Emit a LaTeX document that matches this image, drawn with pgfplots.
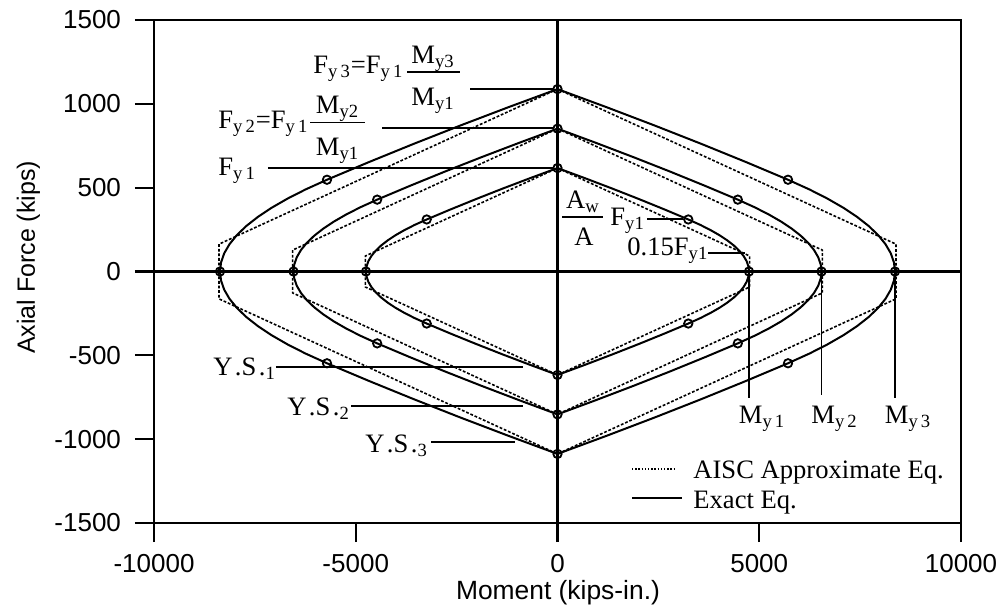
\documentclass[border=0pt]{standalone}
\usepackage{fontspec}
\setmainfont{Liberation Serif}
\setsansfont{Liberation Sans}
\usepackage{pgfplots}
\pgfplotsset{compat=1.18}
\newcommand{\sub}[1]{\textsubscript{#1}}
\newcommand{\ann}{\fontsize{13.3}{15.5}\selectfont}
\begin{document}
\begin{tikzpicture}
\path[use as bounding box] (-77pt,-42pt) rectangle (424pt,261.5pt);
\begin{axis}[
  at={(0pt,0pt)}, anchor=south west,
  scale only axis, width=403.5pt, height=251.5pt,
  xmin=-10000, xmax=10000, ymin=-1500, ymax=1500,
  xtick={-10000,-5000,0,5000,10000},
  ytick={-1500,-1000,-500,0,500,1000,1500},
  scaled ticks=false,
  xtick pos=bottom, ytick pos=left,
  tick align=outside, major tick length=9.5pt,
  tick style={black, line width=1.1pt},
  axis line style={line width=1.2pt},
  /pgf/number format/assume math mode=true,
  /pgf/number format/1000 sep={},
  ticklabel style={font=\fontsize{13}{15}\selectfont\sffamily},
  yticklabel style={xshift=-3.5pt},
  xticklabel style={yshift=-2.8pt},
  xlabel={Moment (kips-in.)}, ylabel={Axial Force (kips)},
  xlabel style={font=\fontsize{13.2}{15}\selectfont\sffamily, at={(axis description cs:0.5006,-0.152)}, anchor=base},
  ylabel style={font=\fontsize{12.5}{14}\selectfont\sffamily, at={(axis description cs:-0.1475,0.528)}, anchor=base},
  clip=false,
]
% zero lines
\addplot[black, line width=1.2pt] coordinates {(-10000,0) (10000,0)};
\addplot[black, line width=1.2pt] coordinates {(0,-1500) (0,1500)};
% AISC approximate
\addplot[black, line width=0.8pt, dash pattern=on 1.4pt off 0.9pt] coordinates {(0,617) (4760,92.6) (4760,-92.6) (0,-617) (-4760,-92.6) (-4760,92.6) (0,617)};
\addplot[black, line width=0.8pt, dash pattern=on 1.4pt off 0.9pt] coordinates {(0,852) (6563,127.8) (6563,-127.8) (0,-852) (-6563,-127.8) (-6563,127.8) (0,852)};
\addplot[black, line width=0.8pt, dash pattern=on 1.4pt off 0.9pt] coordinates {(0,1088) (8389,163.2) (8389,-163.2) (0,-1088) (-8389,-163.2) (-8389,163.2) (0,1088)};
% exact
\addplot[black, line width=1pt, line join=round] coordinates {
(0,617) (694.8,555.3) (1368.3,493.6) (2020.4,431.9) (2650.6,370.2) (3241.5,310.4) (3541.9,277.7) (3794.4,246.8) (4017.5,216.0) (4210.7,185.1) (4374.4,154.3) (4508.2,123.4) (4612.2,92.6) (4686.7,61.7) (4731.3,30.9) (4746,0)
(4731.3,-30.9) (4686.7,-61.7) (4612.2,-92.6) (4508.2,-123.4) (4374.4,-154.3) (4210.7,-185.1) (4017.5,-216.0) (3794.4,-246.8) (3541.9,-277.7) (3241.5,-310.4) (2650.6,-370.2) (2020.4,-431.9) (1368.3,-493.6) (694.8,-555.3) (0,-617)
(-694.8,-555.3) (-1368.3,-493.6) (-2020.4,-431.9) (-2650.6,-370.2) (-3241.5,-310.4) (-3541.9,-277.7) (-3794.4,-246.8) (-4017.5,-216.0) (-4210.7,-185.1) (-4374.4,-154.3) (-4508.2,-123.4) (-4612.2,-92.6) (-4686.7,-61.7) (-4731.3,-30.9) (-4746,0)
(-4731.3,30.9) (-4686.7,61.7) (-4612.2,92.6) (-4508.2,123.4) (-4374.4,154.3) (-4210.7,185.1) (-4017.5,216.0) (-3794.4,246.8) (-3541.9,277.7) (-3241.5,310.4) (-2650.6,370.2) (-2020.4,431.9) (-1368.3,493.6) (-694.8,555.3) (0,617)};
\addplot[black, line width=1pt, line join=round] coordinates {
(0,852) (957.9,766.8) (1886.3,681.6) (2785.4,596.4) (3654.3,511.2) (4468.9,428.6) (4883.0,383.4) (5231.1,340.8) (5538.6,298.2) (5804.9,255.6) (6030.7,213.0) (6215.2,170.4) (6358.5,127.8) (6461.2,85.2) (6522.7,42.6) (6543,0)
(6522.7,-42.6) (6461.2,-85.2) (6358.5,-127.8) (6215.2,-170.4) (6030.7,-213.0) (5804.9,-255.6) (5538.6,-298.2) (5231.1,-340.8) (4883.0,-383.4) (4468.9,-428.6) (3654.3,-511.2) (2785.4,-596.4) (1886.3,-681.6) (957.9,-766.8) (0,-852)
(-957.9,-766.8) (-1886.3,-681.6) (-2785.4,-596.4) (-3654.3,-511.2) (-4468.9,-428.6) (-4883.0,-383.4) (-5231.1,-340.8) (-5538.6,-298.2) (-5804.9,-255.6) (-6030.7,-213.0) (-6215.2,-170.4) (-6358.5,-127.8) (-6461.2,-85.2) (-6522.7,-42.6) (-6543,0)
(-6522.7,42.6) (-6461.2,85.2) (-6358.5,127.8) (-6215.2,170.4) (-6030.7,213.0) (-5804.9,255.6) (-5538.6,298.2) (-5231.1,340.8) (-4883.0,383.4) (-4468.9,428.6) (-3654.3,511.2) (-2785.4,596.4) (-1886.3,681.6) (-957.9,766.8) (0,852)};
\addplot[black, line width=1pt, line join=round] coordinates {
(0,1088) (1224.5,979.2) (2411.3,870.4) (3560.6,761.6) (4671.3,652.8) (5712.6,547.3) (6242.0,489.6) (6687.0,435.2) (7080.1,380.8) (7420.5,326.4) (7709.1,272.0) (7944.9,217.6) (8128.1,163.2) (8259.5,108.8) (8338.1,54.4) (8364,0)
(8338.1,-54.4) (8259.5,-108.8) (8128.1,-163.2) (7944.9,-217.6) (7709.1,-272.0) (7420.5,-326.4) (7080.1,-380.8) (6687.0,-435.2) (6242.0,-489.6) (5712.6,-547.3) (4671.3,-652.8) (3560.6,-761.6) (2411.3,-870.4) (1224.5,-979.2) (0,-1088)
(-1224.5,-979.2) (-2411.3,-870.4) (-3560.6,-761.6) (-4671.3,-652.8) (-5712.6,-547.3) (-6242.0,-489.6) (-6687.0,-435.2) (-7080.1,-380.8) (-7420.5,-326.4) (-7709.1,-272.0) (-7944.9,-217.6) (-8128.1,-163.2) (-8259.5,-108.8) (-8338.1,-54.4) (-8364,0)
(-8338.1,54.4) (-8259.5,108.8) (-8128.1,163.2) (-7944.9,217.6) (-7709.1,272.0) (-7420.5,326.4) (-7080.1,380.8) (-6687.0,435.2) (-6242.0,489.6) (-5712.6,547.3) (-4671.3,652.8) (-3560.6,761.6) (-2411.3,870.4) (-1224.5,979.2) (0,1088)};
% circles
\addplot[only marks, mark=o, mark size=2.1pt, mark options={black, fill=white, line width=0.9pt}] coordinates {
(0,617) (0,-617) (4746,0) (-4746,0) (3241.5,310.4) (3241.5,-310.4) (-3241.5,310.4) (-3241.5,-310.4)
(0,852) (0,-852) (6543,0) (-6543,0) (4468.9,428.6) (4468.9,-428.6) (-4468.9,428.6) (-4468.9,-428.6)
(0,1088) (0,-1088) (8364,0) (-8364,0) (5712.6,547.3) (5712.6,-547.3) (-5712.6,547.3) (-5712.6,-547.3)};
\end{axis}
\begin{scope}[x=0.5pt, y=-0.5pt, shift={(-77pt,261.5pt)}, every node/.style={inner sep=0pt, font=\ann}]
\tikzset{lead/.style={line width=0.75pt}}
% Fy3
\node[anchor=base west] at (313,73) {F\sub{y\,3}=F\sub{y\,1}};
\node[anchor=base] at (433,63) {M\sub{y3}};
\draw[line width=0.55pt] (407,72) -- (460,72);
\node[anchor=base] at (433,105) {M\sub{y1}};
\draw[lead] (470,89) -- (553,89);
% Fy2
\node[anchor=base west] at (218,128) {F\sub{y\,2}=F\sub{y\,1}};
\node[anchor=base] at (337.5,113) {M\sub{y2}};
\draw[line width=0.55pt] (310,122.7) -- (365,122.7);
\node[anchor=base] at (337.5,155) {M\sub{y1}};
\draw[lead] (382,128) -- (553,128);
% Fy1
\node[anchor=base west] at (218,175) {F\sub{y\,1}};
\draw[lead] (268,168) -- (553,168);
% Aw/A Fy1
\node[anchor=base] at (583,208) {A\sub{w}};
\draw[line width=0.55pt] (562,217) -- (603,217);
\node[anchor=base] at (584,245) {A};
\node[anchor=base west] at (610,225) {F\sub{y1}};
\draw[lead] (647,219) -- (683,219);
% 0.15 Fy1
\node[anchor=base west] at (627,255) {0.15F\sub{y1}};
\draw[lead] (708,253) -- (745,253);
% Y.S.
\node[anchor=base west] at (213,375) {Y\kern1.2pt.S\kern1.2pt.\sub{1}};
\draw[lead] (276,367) -- (523,367);
\node[anchor=base west] at (287,415) {Y\kern1.2pt.S\kern1.2pt.\sub{2}};
\draw[lead] (351,406) -- (523,406);
\node[anchor=base west] at (365,452) {Y\kern1.2pt.S\kern1.2pt.\sub{3}};
\draw[lead] (431,442) -- (515,442);
% My labels
\draw[lead] (749,271.5) -- (749,398);
\draw[lead] (821.5,271.5) -- (821.5,395);
\draw[lead] (895,271.5) -- (895,398);
\node[anchor=base west] at (738.5,423) {M\sub{y\,1}};
\node[anchor=base west] at (811,423) {M\sub{y\,2}};
\node[anchor=base west] at (884.5,423) {M\sub{y\,3}};
% legend
\draw[line width=0.7pt, dash pattern=on 0.7pt off 0.9pt] (632,469) -- (676,469);
\draw[line width=0.9pt] (632,498) -- (682,498);
\node[anchor=base west] at (693,478) {AISC Approximate Eq.};
\node[anchor=base west] at (693,508) {Exact Eq.};
\end{scope}
\end{tikzpicture}
\end{document}
